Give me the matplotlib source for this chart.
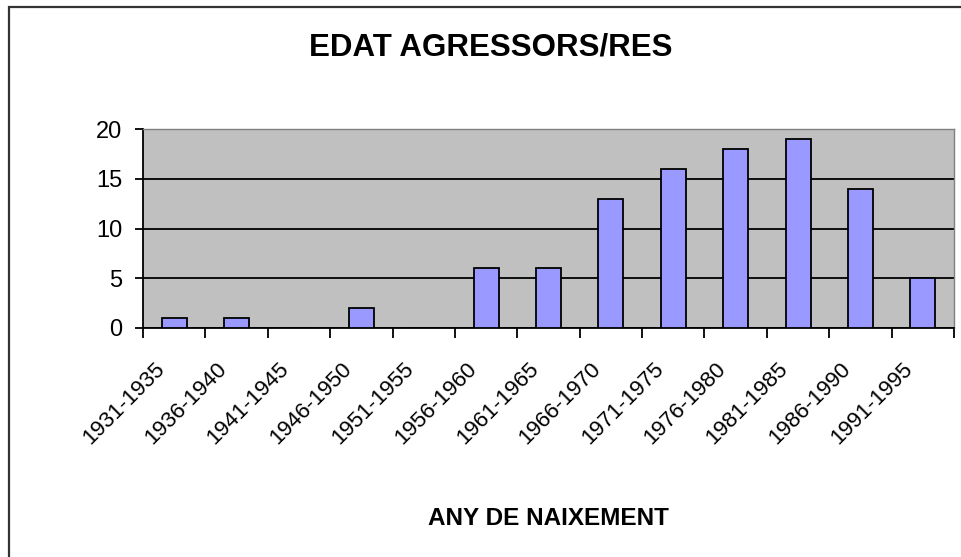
"""Edat agressors/res per any de naixement."""

import matplotlib

matplotlib.use("Agg")
import matplotlib.pyplot as plt
import numpy as np
from matplotlib.patches import Rectangle
from matplotlib.transforms import ScaledTranslation

periods = [
    "1931-1935", "1936-1940", "1941-1945", "1946-1950", "1951-1955",
    "1956-1960", "1961-1965", "1966-1970", "1971-1975", "1976-1980",
    "1981-1985", "1986-1990", "1991-1995",
]
counts = [1, 1, 0, 2, 0, 6, 6, 13, 16, 18, 19, 14, 5]
y_ticks = [0, 5, 10, 15, 20]

plt.rcParams["font.family"] = ["Liberation Sans", "DejaVu Sans"]

W, H, DPI = 962, 557, 100
fig = plt.figure(figsize=(W / DPI, H / DPI), dpi=DPI)
fig.patch.set_facecolor("white")

# chart border (cropped on right and bottom)
fig.add_artist(
    Rectangle(
        (9 / W, -0.2), 1.2, 1.2 - 7 / H,
        transform=fig.transFigure, fill=False, ec="#333333", lw=1.6,
    )
)

ax = fig.add_axes([143 / W, 1 - 328 / H, (954 - 143) / W, (328 - 129) / H])
ax.set_facecolor("#c0c0c0")

x = np.arange(len(periods))
ax.bar(x, counts, width=0.4, color="#9999ff", edgecolor="black", lw=1.3, zorder=3)

ax.set_xlim(-0.5, len(periods) - 0.5)
ax.set_ylim(0, 20)
ax.set_yticks(y_ticks)
ax.grid(axis="y", color="black", lw=1.3, zorder=1)
ax.set_axisbelow(True)

for side in ["top", "right"]:
    ax.spines[side].set_color("#808080")
    ax.spines[side].set_linewidth(1.0)
for side in ["left", "bottom"]:
    ax.spines[side].set_color("black")
    ax.spines[side].set_linewidth(1.3)

ax.tick_params(axis="y", direction="out", length=6, width=1.3, pad=9, labelsize=17)

# tick marks on category boundaries, labels on centres
ax.set_xticks(np.arange(len(periods) + 1) - 0.5)
ax.set_xticklabels([])
ax.tick_params(axis="x", which="major", direction="out", length=7, width=1.3)
ax.set_xticks(x, minor=True)
ax.set_xticklabels(periods, minor=True, rotation=45, ha="right", va="center",
                   rotation_mode="anchor", fontsize=16)
ax.tick_params(axis="x", which="minor", length=0, pad=27)
for lbl in ax.get_xticklabels(minor=True):
    lbl.set_transform(lbl.get_transform() + ScaledTranslation(-0.13, 0, fig.dpi_scale_trans))

ax.set_xlabel("ANY DE NAIXEMENT", fontsize=17.5, fontweight="bold", va="top")
ax.xaxis.set_label_coords(0.5, (328 - 507) / (328 - 129))

fig.text(491 / W, 1 - 47 / H, "EDAT AGRESSORS/RES", fontsize=22.5,
         fontweight="bold", ha="center", va="center")

fig.savefig("out.png", dpi=DPI)
